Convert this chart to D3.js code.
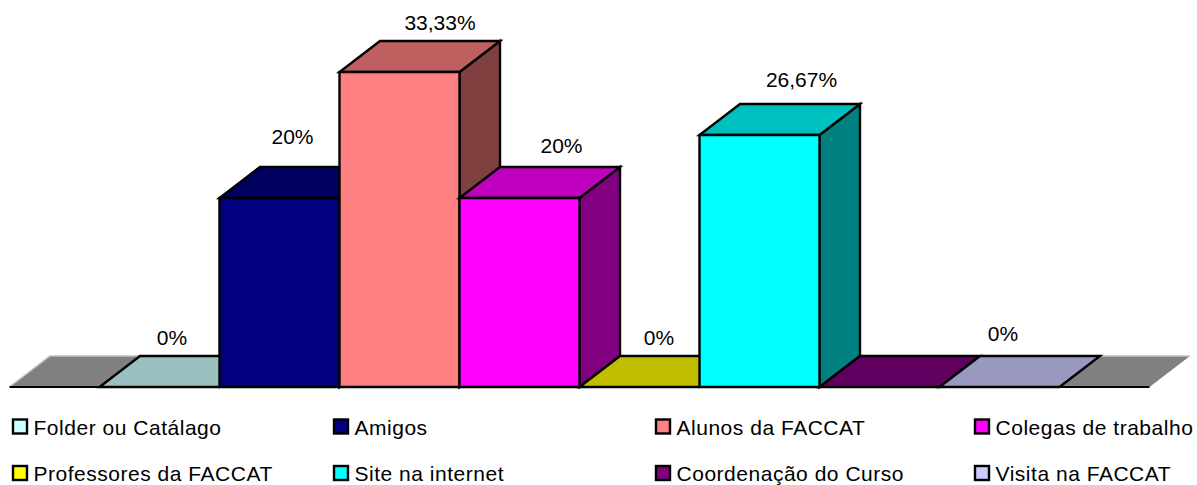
<!DOCTYPE html>
<html>
<head>
<meta charset="utf-8">
<script src="https://cdn.jsdelivr.net/npm/d3@7"></script>
<style>
  html, body { margin: 0; padding: 0; background: #fff; }
  svg { display: block; }
  text { font-family: "Liberation Sans", Arial, sans-serif; fill: #000; }
</style>
</head>
<body>
<div id="chart"></div>
<script>
const categories = ["Folder ou Catálago", "Amigos", "Alunos da FACCAT", "Colegas de trabalho",
  "Professores da FACCAT", "Site na internet", "Coordenação do Curso", "Visita na FACCAT"];
const values = [0, 20, 33.33, 20, 0, 26.67, 0, 0];
const valueLabels = ["0%", "20%", "33,33%", "20%", "0%", "26,67%", "", "0%"];
const frontColors = ["#CCFFFF", "#000080", "#FF8080", "#FF00FF", "#FFFF00", "#00FFFF", "#800080", "#CCCCFF"];

const width = 1197;
const height = 485;
const depth = { x: 40.5, y: -31 };
const floorOverhang = 90;

// Labels were moved by hand in the original chart
const labelNudge = [
  [12.5, -42], [13, -54], [40.5, -42], [42, -45], [19.5, -42], [42, -48], [0, 0], [3.5, -46]
];

const svg = d3.select("#chart").append("svg")
  .attr("width", width)
  .attr("height", height);

// Set up scales
const xScale = d3.scaleBand().domain(categories).range([99.5, 1059.5]);
const yScale = d3.scaleLinear().domain([0, 40]).range([387, 9]);

const base = yScale(0);
const outline = d3.line();

function shade(color, k) {
  const c = d3.rgb(color);
  return d3.rgb(c.r * k, c.g * k, c.b * k).formatHex();
}

function addFace(points, fill) {
  svg.append("path")
    .attr("d", outline(points) + "Z")
    .attr("fill", fill)
    .attr("stroke", "#000")
    .attr("stroke-width", 2.4)
    .attr("stroke-linejoin", "miter");
}

// Floor
const floorLeft = xScale.range()[0] - floorOverhang;
const floorRight = xScale.range()[1] + floorOverhang;
svg.append("path")
  .attr("d", outline([
    [floorLeft, base], [floorRight, base],
    [floorRight + depth.x, base + depth.y], [floorLeft + depth.x, base + depth.y]
  ]) + "Z")
  .attr("fill", "#808080");
svg.append("path")
  .attr("d", outline([
    [floorLeft, base], [floorLeft + depth.x, base + depth.y], [floorRight + depth.x, base + depth.y]
  ]))
  .attr("fill", "none")
  .attr("stroke", "#c0c0c0")
  .attr("stroke-width", 1.5);
svg.append("path")
  .attr("d", outline([[floorLeft, base], [floorRight, base]]))
  .attr("stroke", "#000")
  .attr("stroke-width", 2);

// Bars, drawn left to right so each one covers the side of the previous
categories.forEach((cat, i) => {
  const x0 = xScale(cat);
  const x1 = x0 + xScale.bandwidth();
  const top = yScale(values[i]);
  const dx = depth.x;
  const dy = depth.y;
  if (values[i] > 0) {
    addFace([[x1, base], [x1 + dx, base + dy], [x1 + dx, top + dy], [x1, top]], shade(frontColors[i], 0.5));
  }
  addFace([[x0, top], [x1, top], [x1 + dx, top + dy], [x0 + dx, top + dy]], shade(frontColors[i], 0.75));
  if (values[i] > 0) {
    addFace([[x0, top], [x1, top], [x1, base], [x0, base]], frontColors[i]);
  }
});

// Value labels
svg.selectAll(".value-label")
  .data(categories)
  .enter()
  .append("text")
  .attr("class", "value-label")
  .attr("x", (d, i) => xScale(d) + xScale.bandwidth() / 2 + labelNudge[i][0])
  .attr("y", (d, i) => yScale(values[i]) + labelNudge[i][1])
  .attr("text-anchor", "middle")
  .style("font-size", "21px")
  .text((d, i) => valueLabels[i]);

// Legend
const legendX = [13, 334, 656, 975];
const legendY = [419.5, 466];
const legend = svg.selectAll(".legend-item")
  .data(categories)
  .enter()
  .append("g")
  .attr("class", "legend-item")
  .attr("transform", (d, i) => `translate(${legendX[i % 4]},${legendY[Math.floor(i / 4)]})`);

legend.append("rect")
  .attr("width", 14)
  .attr("height", 14)
  .attr("fill", (d, i) => frontColors[i])
  .attr("stroke", "#000")
  .attr("stroke-width", 2.4);

legend.append("text")
  .attr("x", 20.5)
  .attr("y", 15)
  .style("font-size", "21px")
  .style("letter-spacing", "0.52px")
  .text(d => d);
</script>
</body>
</html>
